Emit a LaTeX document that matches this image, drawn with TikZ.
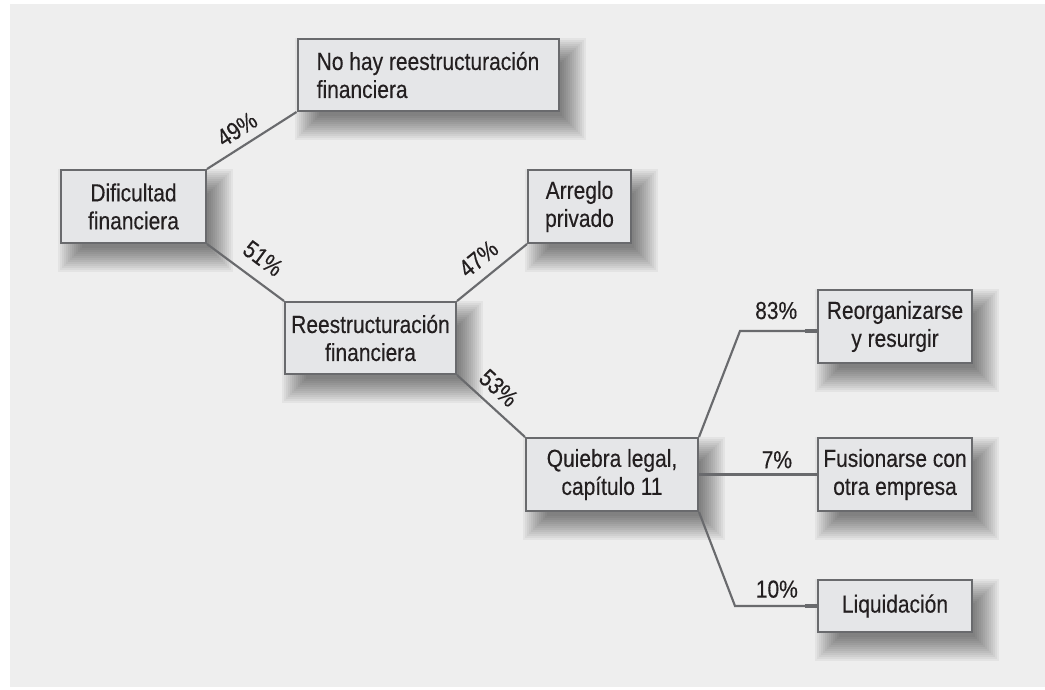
\documentclass[tikz,border=0pt]{standalone}
\usepackage{fontspec}
\setmainfont{Liberation Sans}[FakeStretch=0.85,FakeBold=0.3]
\definecolor{bg}{RGB}{238,238,238}
\definecolor{boxfill}{RGB}{229,230,232}
\definecolor{edge}{RGB}{105,106,109}
\definecolor{ink}{RGB}{35,31,32}
\pgfdeclarelayer{shadowlayer}
\pgfsetlayers{shadowlayer,main}
\newcommand\softshadow[1]{%
  \begin{pgfonlayer}{shadowlayer}
    \foreach \e in {-10,-8,...,14}{%
      \fill[black, opacity=0.042]
        ([shift={(12-\e,-14-\e)}]#1.south west) rectangle ([shift={(12+\e,-14+\e)}]#1.north east);
    }
  \end{pgfonlayer}}
\begin{document}
\begin{tikzpicture}[x=0.75pt,y=0.75pt,
  box/.style={draw=edge, line width=1.5pt, fill=boxfill, text=ink, inner sep=0pt,
    align=center, font=\fontsize{18.5}{21}\selectfont},
  conn/.style={draw=edge, line width=1.6pt},
  stub/.style={draw=edge, line width=2.8pt},
  lbl/.style={text=ink, inner sep=0pt, font=\fontsize{18.5}{21}\selectfont}]
\begin{pgfonlayer}{shadowlayer}
\fill[white] (0,0) rectangle (1045,-689);
\fill[bg] (10,-4) rectangle (1045,-687);
\end{pgfonlayer}
\useasboundingbox (0,0) rectangle (1045,-689);

\node[box, minimum width=108.75pt, minimum height=54.75pt] (dif) at (133.5,-206.5) {Dificultad\\financiera};
\node[box, minimum width=195.75pt, minimum height=54pt, align=left] (nohay) at (428,-75) {No hay reestructuración\\financiera};
\node[box, minimum width=128.25pt, minimum height=54pt] (reest) at (370.5,-338) {Reestructuración\\financiera};
\node[box, minimum width=77.25pt, minimum height=54.75pt] (arreglo) at (579.5,-206.5) {Arreglo\\privado};
\node[box, minimum width=129pt, minimum height=54.75pt] (quiebra) at (612,-474.5) {Quiebra legal,\\capítulo 11};
\node[box, minimum width=115.5pt, minimum height=54.75pt] (reorg) at (895,-326.5) {Reorganizarse\\y resurgir};
\node[box, minimum width=115.5pt, minimum height=54.75pt] (fusion) at (895,-474.5) {Fusionarse con\\otra empresa};
\node[box, minimum width=115.5pt, minimum height=39pt] (liq) at (895,-606) {Liquidación};

\softshadow{dif}\softshadow{nohay}\softshadow{reest}\softshadow{arreglo}
\softshadow{quiebra}\softshadow{reorg}\softshadow{fusion}\softshadow{liq}

\draw[conn] (dif.north east) -- node[lbl, pos=0.44, sloped, above=5.8pt] {49\%} (nohay.south west);
\draw[conn] (dif.south east) -- node[lbl, pos=0.56, sloped, above=9pt] {51\%} (reest.north west);
\draw[conn] (reest.north east) -- node[lbl, pos=0.48, sloped, above=7.2pt] {47\%} (arreglo.south west);
\draw[conn] (reest.south east) -- node[lbl, pos=0.43, sloped, above=6.5pt] {53\%} (quiebra.north west);

\coordinate (b1) at (740,-331);
\coordinate (b2) at (735,-606);
\draw[conn] (quiebra.north east) -- (b1) -- node[lbl, pos=0.47, above=8pt] {83\%} (b1 -| reorg.west);
\draw[stub] (b1 -| reorg.west) -- ++(-12,0);
\draw[conn] (quiebra.east) -- node[lbl, pos=0.66, above=3.8pt] {7\%} (fusion.west);
\draw[conn] (quiebra.south east) -- (b2) -- node[lbl, pos=0.51, above=5.3pt] {10\%} (b2 -| liq.west);
\draw[stub] (b2 -| liq.west) -- ++(-12,0);
\end{tikzpicture}
\end{document}
